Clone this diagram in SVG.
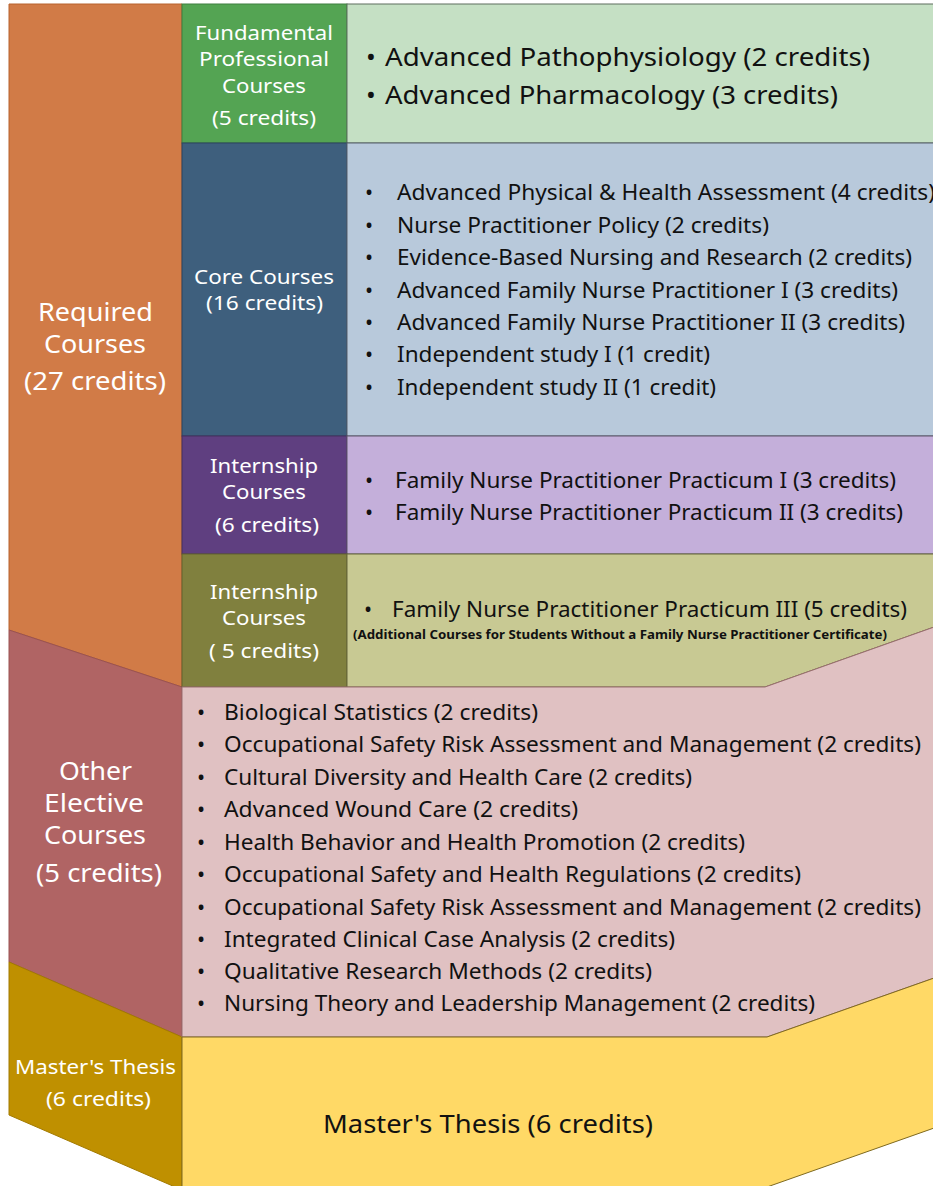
<svg xmlns="http://www.w3.org/2000/svg" width="933" height="1186" viewBox="0 0 933 1186">
<style>
text{font-family:"Noto Sans","Open Sans","DejaVu Sans",sans-serif}
.lab{fill:#fff;text-anchor:middle}
.l26{font-size:25px}
.l20{font-size:20px}
.it{fill:#111;font-size:21.5px}
.big{fill:#111;font-size:26px}
.bul{text-anchor:middle}
.note{fill:#111;font-size:12.5px;font-weight:bold}
</style>
<rect width="933" height="1186" fill="#fff"/>
<g id="required">
<polygon points="9,4 182,4 182,687 9,630" fill="#D17B47" stroke="#B8632F" stroke-width="1"/>
<text class="lab l26" x="95.5" y="321" textLength="115" lengthAdjust="spacingAndGlyphs">Required</text>
<text class="lab l26" x="95" y="353" textLength="102" lengthAdjust="spacingAndGlyphs">Courses</text>
<text class="lab l26" x="95" y="390" textLength="142" lengthAdjust="spacingAndGlyphs">(27 credits)</text>
</g>
<g id="elective">
<polygon points="9,630 182,687 182,1037 9,962" fill="#B06464" stroke="#9A5252" stroke-width="1"/>
<text class="lab l26" x="95.5" y="780" textLength="73" lengthAdjust="spacingAndGlyphs">Other</text>
<text class="lab l26" x="94" y="812" textLength="100" lengthAdjust="spacingAndGlyphs">Elective</text>
<text class="lab l26" x="95" y="844" textLength="102" lengthAdjust="spacingAndGlyphs">Courses</text>
<text class="lab l26" x="99" y="882" textLength="126" lengthAdjust="spacingAndGlyphs">(5 credits)</text>
</g>
<g id="thesis">
<polygon points="9,962 182,1037 182,1190 9,1115" fill="#BF9000" stroke="#A27A00" stroke-width="1"/>
<text class="lab l20" x="95.5" y="1074" textLength="161" lengthAdjust="spacingAndGlyphs">Master's Thesis</text>
<text class="lab l20" x="98.5" y="1106" textLength="105" lengthAdjust="spacingAndGlyphs">(6 credits)</text>
</g>
<g id="fundamental">
<rect x="182" y="4" width="165" height="139" fill="#54A453" stroke="#3F7F40" stroke-width="1"/>
<text class="lab l20" x="264" y="40" textLength="138" lengthAdjust="spacingAndGlyphs">Fundamental</text>
<text class="lab l20" x="264" y="66" textLength="130" lengthAdjust="spacingAndGlyphs">Professional</text>
<text class="lab l20" x="264" y="93" textLength="84" lengthAdjust="spacingAndGlyphs">Courses</text>
<text class="lab l20" x="264" y="125" textLength="104" lengthAdjust="spacingAndGlyphs">(5 credits)</text>
</g>
<g id="fundamental-list">
<rect x="347" y="4" width="590" height="139" fill="#C5E0C4" stroke="#5E6E5E" stroke-width="1"/>
<text class="big bul" x="371" y="66">•</text>
<text class="big" x="385" y="66" textLength="485" lengthAdjust="spacingAndGlyphs">Advanced Pathophysiology (2 credits)</text>
<text class="big bul" x="371" y="104">•</text>
<text class="big" x="385" y="104" textLength="453" lengthAdjust="spacingAndGlyphs">Advanced Pharmacology (3 credits)</text>
</g>
<g id="core">
<rect x="182" y="143" width="165" height="293" fill="#3E5F7D" stroke="#2C4560" stroke-width="1"/>
<text class="lab l20" x="264" y="284" textLength="140" lengthAdjust="spacingAndGlyphs">Core Courses</text>
<text class="lab l20" x="264.5" y="310" textLength="117" lengthAdjust="spacingAndGlyphs">(16 credits)</text>
</g>
<g id="core-list">
<rect x="347" y="143" width="590" height="293" fill="#B8C9DB" stroke="#56606C" stroke-width="1"/>
<g class="it">
<text class="bul" x="369" y="200">•</text><text x="397" y="200" textLength="538" lengthAdjust="spacingAndGlyphs">Advanced Physical &amp; Health Assessment (4 credits)</text>
<text class="bul" x="369" y="233">•</text><text x="397" y="233" textLength="372" lengthAdjust="spacingAndGlyphs">Nurse Practitioner Policy (2 credits)</text>
<text class="bul" x="369" y="265">•</text><text x="397" y="265" textLength="515" lengthAdjust="spacingAndGlyphs">Evidence-Based Nursing and Research (2 credits)</text>
<text class="bul" x="369" y="298">•</text><text x="397" y="298" textLength="501" lengthAdjust="spacingAndGlyphs">Advanced Family Nurse Practitioner I (3 credits)</text>
<text class="bul" x="369" y="330">•</text><text x="397" y="330" textLength="508" lengthAdjust="spacingAndGlyphs">Advanced Family Nurse Practitioner II (3 credits)</text>
<text class="bul" x="369" y="362">•</text><text x="397" y="362" textLength="313" lengthAdjust="spacingAndGlyphs">Independent study I (1 credit)</text>
<text class="bul" x="369" y="395">•</text><text x="397" y="395" textLength="319" lengthAdjust="spacingAndGlyphs">Independent study II (1 credit)</text>
</g>
</g>
<g id="internship1">
<rect x="182" y="436" width="165" height="118" fill="#5F3F80" stroke="#47305F" stroke-width="1"/>
<text class="lab l20" x="264" y="473" textLength="108" lengthAdjust="spacingAndGlyphs">Internship</text>
<text class="lab l20" x="264" y="499" textLength="84" lengthAdjust="spacingAndGlyphs">Courses</text>
<text class="lab l20" x="267" y="532" textLength="104" lengthAdjust="spacingAndGlyphs">(6 credits)</text>
</g>
<g id="internship1-list">
<rect x="347" y="436" width="590" height="118" fill="#C4AFDA" stroke="#5E566A" stroke-width="1"/>
<g class="it">
<text class="bul" x="369" y="488">•</text><text x="395" y="488" textLength="501" lengthAdjust="spacingAndGlyphs">Family Nurse Practitioner Practicum I (3 credits)</text>
<text class="bul" x="369" y="520">•</text><text x="395" y="520" textLength="508" lengthAdjust="spacingAndGlyphs">Family Nurse Practitioner Practicum II (3 credits)</text>
</g>
</g>
<g id="internship2">
<rect x="182" y="554" width="165" height="133" fill="#80803E" stroke="#62622E" stroke-width="1"/>
<text class="lab l20" x="264" y="599" textLength="108" lengthAdjust="spacingAndGlyphs">Internship</text>
<text class="lab l20" x="264" y="625" textLength="84" lengthAdjust="spacingAndGlyphs">Courses</text>
<text class="lab l20" x="264" y="658" textLength="110" lengthAdjust="spacingAndGlyphs">( 5 credits)</text>
</g>
<g id="internship2-list">
<polygon points="347,554 937,554 937,626 765,687 347,687" fill="#C8C993" stroke="#66663A" stroke-width="1"/>
<text class="it bul" x="368" y="617">•</text>
<text class="it" x="392" y="617" textLength="515" lengthAdjust="spacingAndGlyphs">Family Nurse Practitioner Practicum III (5 credits)</text>
<text class="note" x="353" y="639" textLength="534" lengthAdjust="spacingAndGlyphs">(Additional Courses for Students Without a Family Nurse Practitioner Certificate)</text>
</g>
<g id="elective-list">
<polygon points="182,687 765,687 937,626 937,977 767,1037 182,1037" fill="#E0C1C2" stroke="#9A6E70" stroke-width="1"/>
<g class="it">
<text class="bul" x="201" y="720">•</text><text x="224" y="720" textLength="314" lengthAdjust="spacingAndGlyphs">Biological Statistics (2 credits)</text>
<text class="bul" x="201" y="752">•</text><text x="224" y="752" textLength="697" lengthAdjust="spacingAndGlyphs">Occupational Safety Risk Assessment and Management (2 credits)</text>
<text class="bul" x="201" y="785">•</text><text x="224" y="785" textLength="468" lengthAdjust="spacingAndGlyphs">Cultural Diversity and Health Care (2 credits)</text>
<text class="bul" x="201" y="817">•</text><text x="224" y="817" textLength="354" lengthAdjust="spacingAndGlyphs">Advanced Wound Care (2 credits)</text>
<text class="bul" x="201" y="850">•</text><text x="224" y="850" textLength="521" lengthAdjust="spacingAndGlyphs">Health Behavior and Health Promotion (2 credits)</text>
<text class="bul" x="201" y="882">•</text><text x="224" y="882" textLength="577" lengthAdjust="spacingAndGlyphs">Occupational Safety and Health Regulations (2 credits)</text>
<text class="bul" x="201" y="915">•</text><text x="224" y="915" textLength="697" lengthAdjust="spacingAndGlyphs">Occupational Safety Risk Assessment and Management (2 credits)</text>
<text class="bul" x="201" y="947">•</text><text x="224" y="947" textLength="451" lengthAdjust="spacingAndGlyphs">Integrated Clinical Case Analysis (2 credits)</text>
<text class="bul" x="201" y="979">•</text><text x="224" y="979" textLength="428" lengthAdjust="spacingAndGlyphs">Qualitative Research Methods (2 credits)</text>
<text class="bul" x="201" y="1011">•</text><text x="224" y="1011" textLength="591" lengthAdjust="spacingAndGlyphs">Nursing Theory and Leadership Management (2 credits)</text>
</g>
</g>
<g id="thesis-detail">
<polygon points="182,1037 767,1037 937,977 937,1127 767,1187 182,1187" fill="#FFD966" stroke="#7F6A20" stroke-width="1"/>
<text class="big" x="488" y="1133" text-anchor="middle" textLength="330" lengthAdjust="spacingAndGlyphs">Master's Thesis (6 credits)</text>
</g>
</svg>
